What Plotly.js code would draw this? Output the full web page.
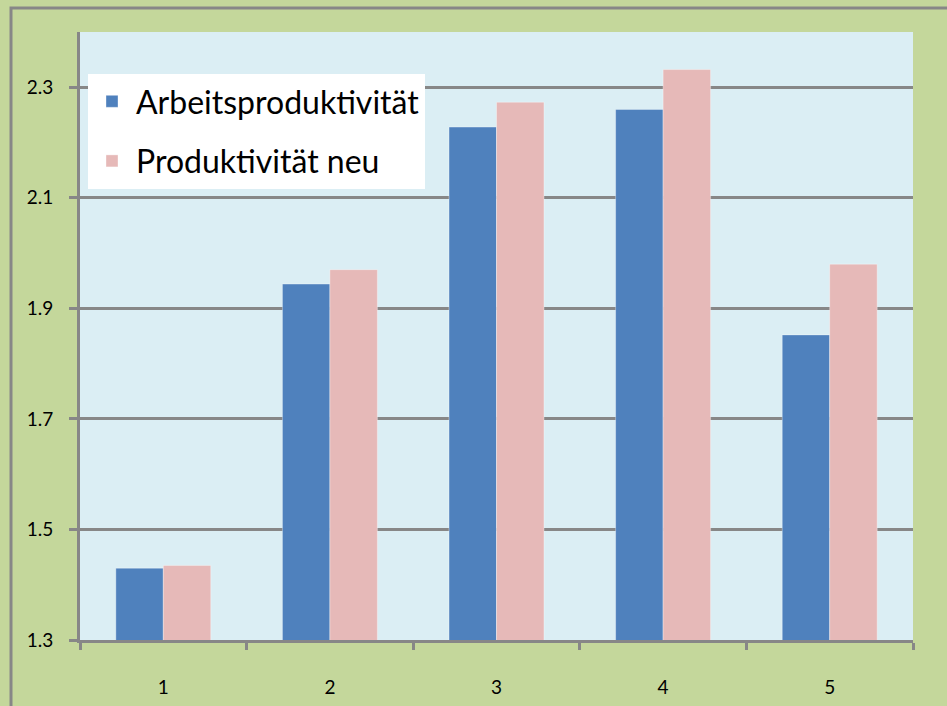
<!DOCTYPE html>
<html>
<head>
<meta charset="utf-8">
<script src="https://cdn.plot.ly/plotly-3.0.1.min.js"></script>
<style>html,body{margin:0;padding:0;background:#c4d79b;}#chart{width:947px;height:706px;}</style>
</head>
<body>
<div id="chart"></div>
<script>
const categories = ['1', '2', '3', '4', '5'];
const seriesNames = ['Arbeitsproduktivität', 'Produktivität neu'];
const arbeitsproduktivitaet = [1.43, 1.944, 2.228, 2.26, 1.852];
const produktivitaetNeu = [1.435, 1.97, 2.273, 2.332, 1.98];
const yTicks = [1.3, 1.5, 1.7, 1.9, 2.1, 2.3];
const colors = ['#4f81bd', '#e6b9b8'];

const traces = [arbeitsproduktivitaet, produktivitaetNeu].map((vals, i) => ({
  type: 'bar',
  x: categories,
  y: vals,
  name: seriesNames[i],
  legendgroup: 'g' + i,
  marker: {color: colors[i], line: {color: 'rgba(255,255,255,0.35)', width: 1}}
}));

const W = 947, H = 706, L = 80, R = 34, T = 32, B = 66;
const pw = W - L - R, ph = H - T - B;
const px = v => (v - L) / pw;
const py = v => (H - B - v) / ph;

const layout = {
  width: W, height: H,
  margin: {l: L, r: R, t: T, b: B, pad: 0},
  paper_bgcolor: '#c4d79b',
  plot_bgcolor: '#dbeef4',
  font: {family: 'Lato, "Open Sans", sans-serif', color: '#000000', size: 19},
  barmode: 'group',
  bargap: 0.43,
  bargroupgap: 0,
  showlegend: true,
  legend: {
    x: px(88), y: py(74), xanchor: 'left', yanchor: 'top',
    bgcolor: '#ffffff',
    font: {size: 32, color: '#000000'},
    traceorder: 'grouped',
    tracegroupgap: 15,
    itemwidth: 38,
    borderwidth: 0
  },
  xaxis: {
    type: 'category',
    tickson: 'boundaries',
    ticks: 'outside', ticklen: 7, tickwidth: 3, tickcolor: '#878787',
    showline: true, linecolor: '#878787', linewidth: 3,
    showgrid: false,
    ticklabelstandoff: 28,
    tickfont: {size: 19}
  },
  yaxis: {
    range: [1.3, 2.4],
    tickvals: yTicks,
    ticktext: yTicks.map(v => v.toFixed(1)),
    ticks: 'outside', ticklen: 8, tickwidth: 3, tickcolor: '#878787',
    showline: true, linecolor: '#878787', linewidth: 3,
    showgrid: true, gridcolor: '#878787', gridwidth: 3,
    zeroline: false,
    ticklabelstandoff: 12,
    tickfont: {size: 19}
  },
  shapes: [{
    type: 'path', xref: 'paper', yref: 'paper',
    path: `M ${px(11)} ${py(712)} L ${px(11)} ${py(8)} L ${px(950)} ${py(8)}`,
    line: {color: '#878787', width: 3},
    layer: 'above'
  }]
};

Plotly.newPlot('chart', traces, layout, {displayModeBar: false, staticPlot: true});
</script>
</body>
</html>
